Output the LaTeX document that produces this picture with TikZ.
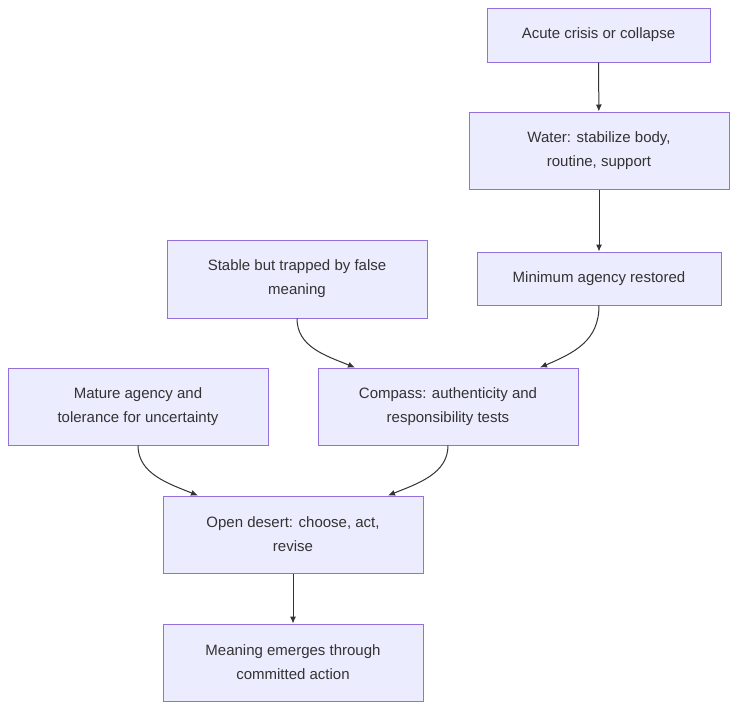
\documentclass[tikz,border=0pt]{standalone}
\usepackage{fontspec}
\setmainfont{Liberation Sans}
\usetikzlibrary{arrows.meta,calc}
\definecolor{nfill}{HTML}{ECECFF}
\definecolor{nstroke}{HTML}{9370DB}
\definecolor{ntext}{HTML}{333333}
\begin{document}
\begin{tikzpicture}[x=1pt,y=-1pt,
  box/.style={draw=nstroke,fill=nfill,line width=1pt,minimum height=#1,align=center,text=ntext,font=\fontsize{15}{24}\selectfont,inner sep=0pt},
  box/.default=77pt,
  arr/.style={draw=ntext,line width=1pt,-{Latex[length=7pt,width=6pt]}}]
\useasboundingbox (0,0) rectangle (737,710);
\node[box=54pt,minimum width=223pt] (A) at (598.5,35) {Acute crisis or collapse};
\node[box,minimum width=260pt] (B) at (599,150.5) {Water: stabilize body,\\routine, support};
\node[box=53pt,minimum width=244pt] (C) at (599,278.5) {Minimum agency restored};
\node[box=78pt,minimum width=260pt] (D) at (297,279) {Stable but trapped by false\\meaning};
\node[box,minimum width=260pt] (E) at (448,406.5) {Compass: authenticity and\\responsibility tests};
\node[box,minimum width=260pt] (F) at (138,406.5) {Mature agency and\\tolerance for uncertainty};
\node[box,minimum width=260pt] (G) at (293,534.5) {Open desert: choose, act,\\revise};
\node[box,minimum width=260pt] (H) at (293,662.5) {Meaning emerges through\\committed action};
\draw[arr] (A) -- (B);
\draw[arr] (B) -- (C);
\draw[arr] (G) -- (H);
\draw[arr] (C.south) .. controls +(0,35) and +(35,-15) .. ($(E.north)+(92,0)$);
\draw[arr] (D.south) .. controls +(0,28) and +(-30,-12) .. ($(E.north)+(-93,0)$);
\draw[arr] (F.south) .. controls +(0,28) and +(-30,-12) .. ($(G.north)+(-95,0)$);
\draw[arr] (E.south) .. controls +(0,28) and +(30,-12) .. ($(G.north)+(95,0)$);
\end{tikzpicture}
\end{document}
